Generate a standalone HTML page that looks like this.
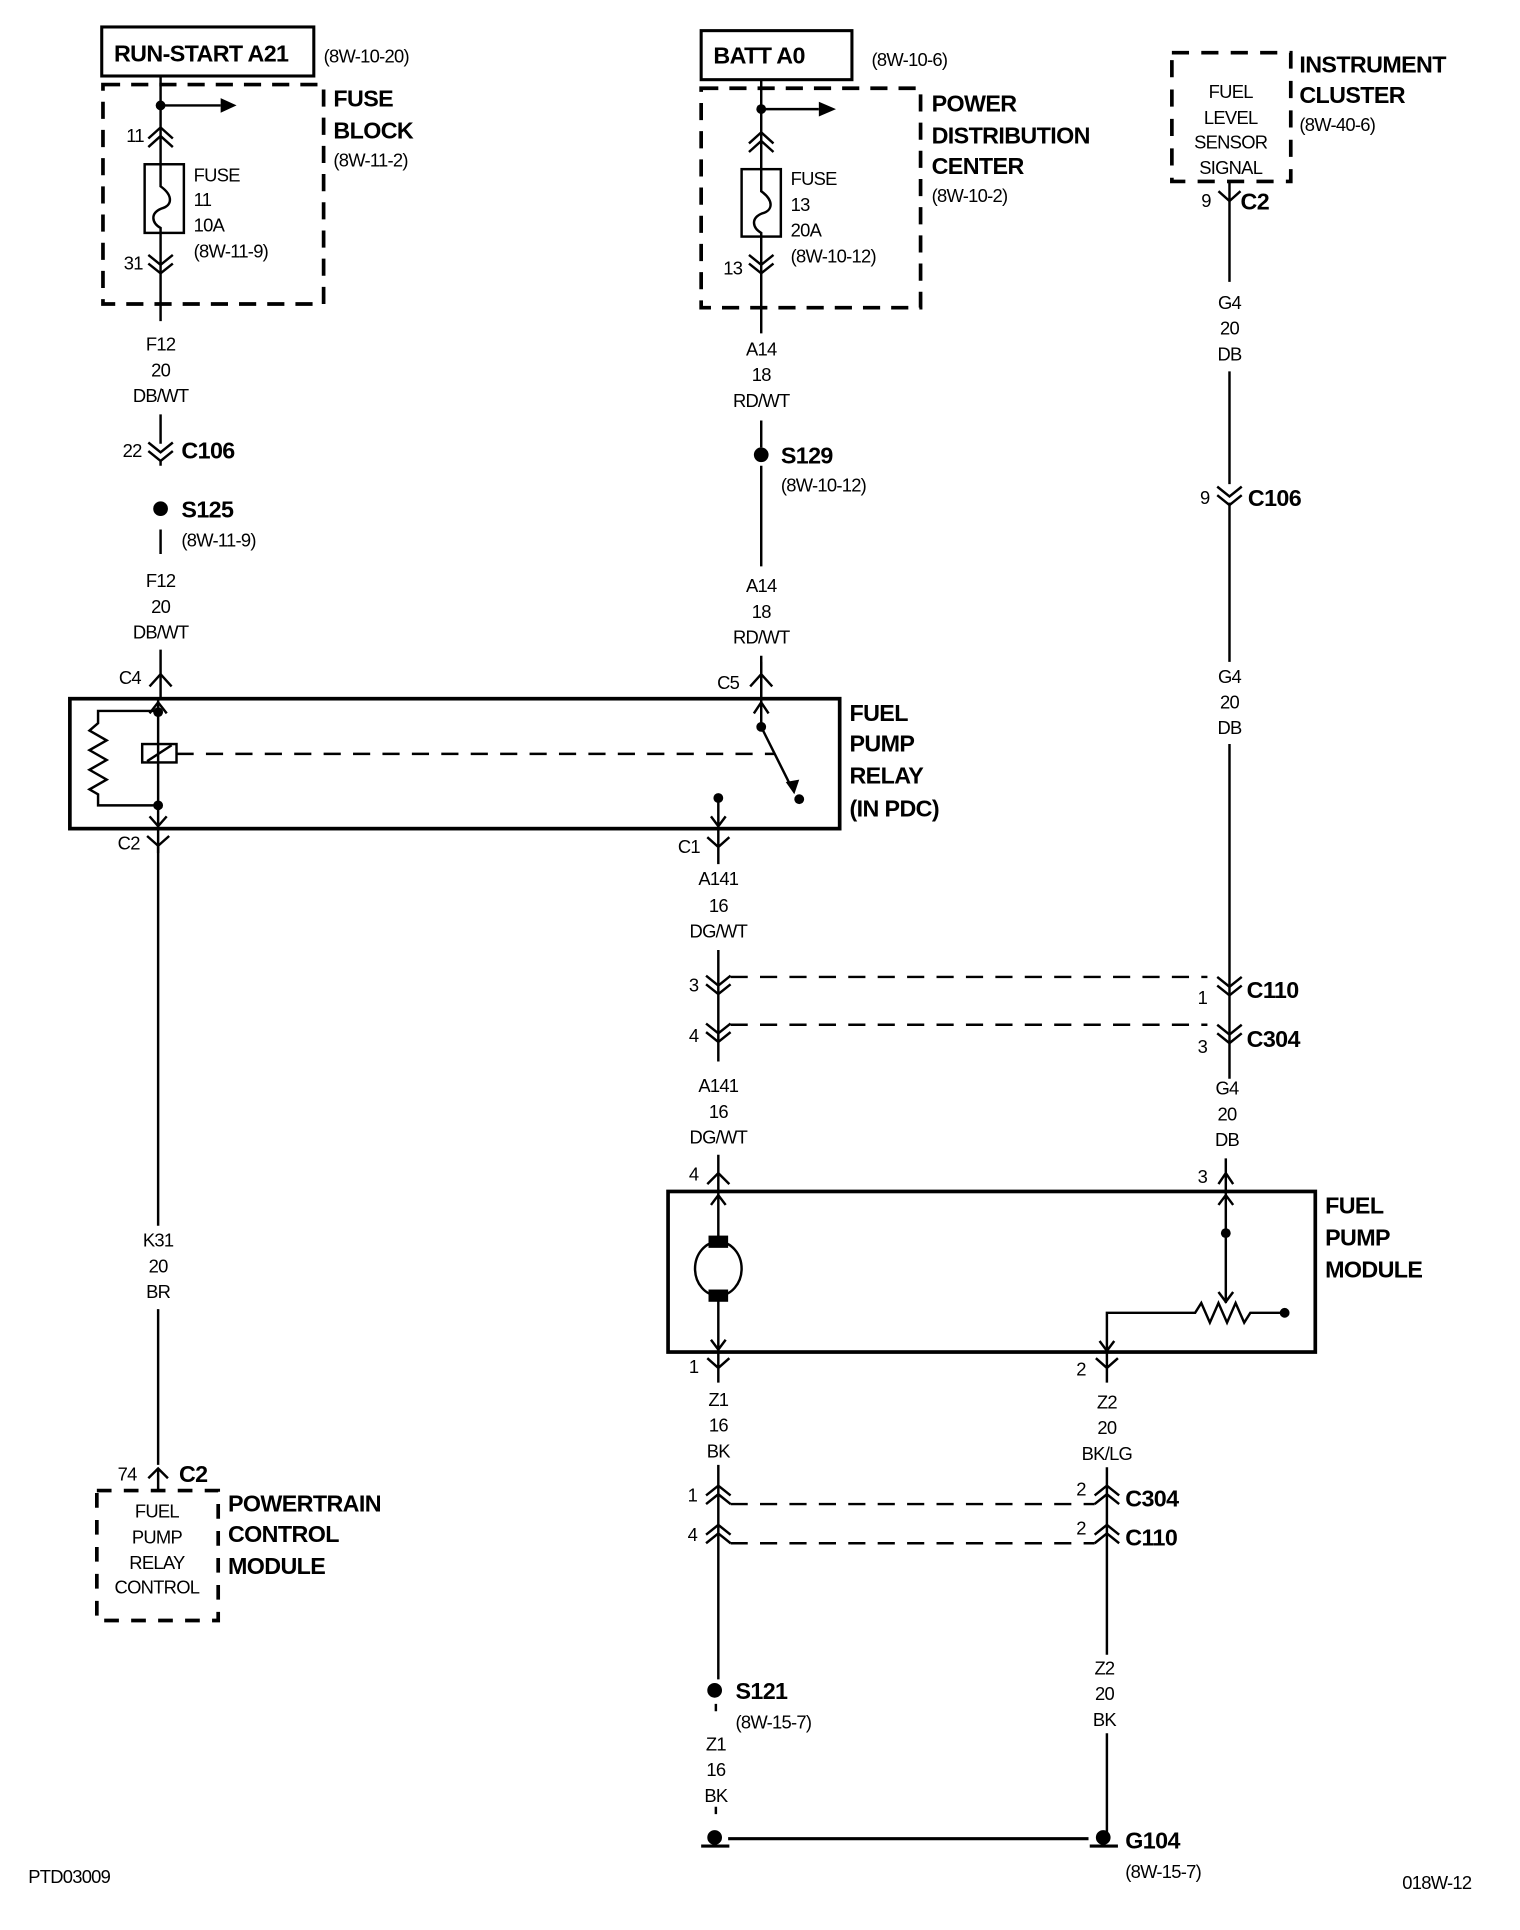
<!DOCTYPE html>
<html><head><meta charset="utf-8"><style>
html,body{margin:0;padding:0;background:#fff;}
svg{display:block;}
text{font-family:"Liberation Sans",Arial,sans-serif;fill:#000;}
.n{font-size:15px;letter-spacing:-0.6px;}
.b{font-size:19px;font-weight:bold;letter-spacing:-0.5px;}
.c{text-anchor:middle;}
</style></head><body>
<svg width="1520" height="1930" viewBox="0 0 1240 1574.5" preserveAspectRatio="none" xmlns="http://www.w3.org/2000/svg">
<g fill="none" stroke="#000" stroke-width="2">
<rect x="83" y="22" width="173" height="40" stroke-width="2.5"/>
<rect x="84" y="69" width="180" height="179" stroke-width="3" stroke-dasharray="14,9"/>
<path d="M131 62 V135 M131 190 V262 M131 338 V362"/>
<path d="M131 86 H180"/>
<path d="M121 113 L131 104 L141 113 M121 120 L131 111 L141 120"/>
<rect x="118" y="134" width="32" height="56"/>
<path d="M131 134 V152 C142 160 140 168 132 170 C122 174 124 182 131 186 V190"/>
<path d="M121 208 L131 216 L141 208 M121 215 L131 223 L141 215"/>
<path d="M121 361 L131 369 L141 361 M121 368 L131 376 L141 368"/>
<path d="M131 376 V380 M131 432 V452 M131 530 V570"/>
<path d="M122 560 L131 550 L140 560"/>
<rect x="57" y="570" width="628" height="106" stroke-width="3"/>
<path d="M129 570 V676"/>
<path d="M122 582 L129 573 L136 582 M122 666 L129 674 L136 666"/>
<rect x="116" y="607" width="28" height="15"/>
<path d="M120 621 L140 608"/>
<path d="M129 580 H80 V590 L73 596 L87 604 L73 612 L87 620 L73 628 L87 636 L73 644 L80 648 V657 H129"/>
<path d="M144 615 H632" stroke-dasharray="14,10"/>
<path d="M621 540 V593 M621 593 L646 643"/>
<path d="M615 582 L621 573 L627 582"/>
<path d="M586 651 V675 M580 666 L586 674 L592 666"/>
<path d="M129 676 V1000 M129 1068 V1195"/>
<path d="M120 682 L129 690 L138 682 M129 690 V696"/>
<path d="M121 1206 L129 1198 L137 1206 M129 1198 V1216"/>
<rect x="79" y="1216" width="99" height="106" stroke-width="3" stroke-dasharray="12,10"/>
<rect x="572" y="25" width="123" height="40" stroke-width="2.5"/>
<rect x="572" y="72" width="179" height="179" stroke-width="3" stroke-dasharray="14,9"/>
<path d="M621 65 V138 M621 193 V272 M621 343 V365 M621 380 V462 M621 535 V570"/>
<path d="M621 89 H668"/>
<path d="M611 117 L621 108 L631 117 M611 124 L621 115 L631 124"/>
<rect x="605" y="138" width="32" height="55"/>
<path d="M621 138 V156 C632 164 630 172 622 174 C612 178 614 186 621 190 V193"/>
<path d="M611 208 L621 216 L631 208 M611 215 L621 223 L631 215"/>
<path d="M612 560 L621 550 L630 560"/>
<path d="M586 676 V705 M577 683 L586 691 L595 683"/>
<path d="M586 775 V866 M586 942 V972"/>
<path d="M576 796 L586 804 L596 796 M576 803 L586 811 L596 803"/>
<path d="M576 835 L586 843 L596 835 M576 842 L586 850 L596 842"/>
<path d="M596 797 H985 M596 836 H985" stroke-dasharray="14,10"/>
<path d="M577 966 L586 957 L595 966"/>
<rect x="545" y="972" width="528" height="131" stroke-width="3"/>
<path d="M586 972 V1103"/>
<path d="M580 983 L586 975 L592 983 M580 1093 L586 1101 L592 1093"/>
<ellipse cx="586" cy="1035" rx="19" ry="22" fill="#fff"/>
<rect x="579" y="1009" width="14" height="8" fill="#000"/>
<rect x="579" y="1053" width="14" height="8" fill="#000"/>
<path d="M1000 972 V1063 M994 983 L1000 975 L1006 983 M994 1054 L1000 1062 L1006 1054"/>
<path d="M903 1103 V1071 H975 L980 1063 L987 1079 L994 1063 L1001 1079 L1008 1063 L1015 1079 L1020 1071 H1048"/>
<path d="M897 1094 L903 1102 L909 1094"/>
<path d="M586 1103 V1128 M577 1108 L586 1116 L595 1108"/>
<path d="M903 1103 V1128 M894 1108 L903 1116 L912 1108"/>
<path d="M586 1195 V1370 M903 1197 V1350 M903 1414 V1495 M584 1390 V1396 M584 1474 V1480"/>
<path d="M576 1220 L586 1212 L596 1220 M576 1227 L586 1219 L596 1227"/>
<path d="M576 1252 L586 1244 L596 1252 M576 1259 L586 1251 L596 1259"/>
<path d="M893 1220 L903 1212 L913 1220 M893 1227 L903 1219 L913 1227"/>
<path d="M893 1252 L903 1244 L913 1252 M893 1259 L903 1251 L913 1259"/>
<path d="M596 1227 H893 M596 1259 H893" stroke-dasharray="14,10"/>
<path d="M594 1500 H888" stroke-width="2.5"/>
<path d="M572 1506 H595 M889 1506 H912" stroke-width="2.5"/>
<rect x="956" y="43" width="97" height="105" stroke-width="3" stroke-dasharray="14,10"/>
<path d="M1003 148 V230 M1003 303 V395 M1003 410 V540 M1003 607 V880"/>
<path d="M994 156 L1003 164 L1012 156"/>
<path d="M993 397 L1003 405 L1013 397 M993 404 L1003 412 L1013 404"/>
<path d="M993 797 L1003 805 L1013 797 M993 804 L1003 812 L1013 804"/>
<path d="M993 836 L1003 844 L1013 836 M993 843 L1003 851 L1013 843"/>
<path d="M994 966 L1000 957 L1006 966 M1000 945 V972" />
</g>
<g fill="#000">
<path d="M180 80 L193 86 L180 92 Z"/>
<path d="M668 83 L682 89 L668 95 Z"/>
<circle cx="131" cy="86" r="4"/><circle cx="621" cy="89" r="4"/>
<circle cx="131" cy="415" r="6"/><circle cx="621" cy="371" r="6"/>
<circle cx="129" cy="581" r="4"/><circle cx="129" cy="657" r="4"/>
<circle cx="621" cy="593" r="4"/><circle cx="652" cy="652" r="4"/><circle cx="586" cy="651" r="4"/>
<path d="M641 638 L648 648 L652 636 Z"/>
<circle cx="1000" cy="1006" r="4"/><circle cx="1048" cy="1071" r="4"/>
<circle cx="583" cy="1379" r="6"/>
<circle cx="583" cy="1499" r="6"/><circle cx="900" cy="1499" r="6"/>
</g>
<text class="b" x="93" y="50">RUN-START A21</text>
<text class="n" x="264" y="51">(8W-10-20)</text>
<text class="b" x="272" y="87">FUSE</text><text class="b" x="272" y="113">BLOCK</text>
<text class="n" x="272" y="136">(8W-11-2)</text>
<text class="n" x="103" y="116">11</text>
<text class="n" x="158" y="148">FUSE</text><text class="n" x="158" y="168">11</text><text class="n" x="158" y="189">10A</text><text class="n" x="158" y="210">(8W-11-9)</text>
<text class="n" x="101" y="220">31</text>
<text class="n c" x="131" y="286">F12</text><text class="n c" x="131" y="307">20</text><text class="n c" x="131" y="328">DB/WT</text>
<text class="n" x="100" y="373">22</text><text class="b" x="148" y="374">C106</text>
<text class="b" x="148" y="422">S125</text><text class="n" x="148" y="446">(8W-11-9)</text>
<text class="n c" x="131" y="479">F12</text><text class="n c" x="131" y="500">20</text><text class="n c" x="131" y="521">DB/WT</text>
<text class="n" x="97" y="558">C4</text>
<text class="b" x="693" y="588">FUEL</text><text class="b" x="693" y="613">PUMP</text><text class="b" x="693" y="639">RELAY</text><text class="b" x="693" y="666">(IN PDC)</text>
<text class="n" x="96" y="693">C2</text>
<text class="n c" x="129" y="1017">K31</text><text class="n c" x="129" y="1038">20</text><text class="n c" x="129" y="1059">BR</text>
<text class="n" x="96" y="1208">74</text><text class="b" x="146" y="1209">C2</text>
<text class="n c" x="128" y="1238">FUEL</text><text class="n c" x="128" y="1259">PUMP</text><text class="n c" x="128" y="1280">RELAY</text><text class="n c" x="128" y="1300">CONTROL</text>
<text class="b" x="186" y="1233">POWERTRAIN</text><text class="b" x="186" y="1258">CONTROL</text><text class="b" x="186" y="1284">MODULE</text>
<text class="b" x="582" y="52">BATT A0</text>
<text class="n" x="711" y="54">(8W-10-6)</text>
<text class="b" x="760" y="91">POWER</text><text class="b" x="760" y="117">DISTRIBUTION</text><text class="b" x="760" y="142">CENTER</text>
<text class="n" x="760" y="165">(8W-10-2)</text>
<text class="n" x="645" y="151">FUSE</text><text class="n" x="645" y="172">13</text><text class="n" x="645" y="193">20A</text><text class="n" x="645" y="214">(8W-10-12)</text>
<text class="n" x="590" y="224">13</text>
<text class="n c" x="621" y="290">A14</text><text class="n c" x="621" y="311">18</text><text class="n c" x="621" y="332">RD/WT</text>
<text class="b" x="637" y="378">S129</text><text class="n" x="637" y="401">(8W-10-12)</text>
<text class="n c" x="621" y="483">A14</text><text class="n c" x="621" y="504">18</text><text class="n c" x="621" y="525">RD/WT</text>
<text class="n" x="585" y="562">C5</text>
<text class="n" x="553" y="696">C1</text>
<text class="n c" x="586" y="722">A141</text><text class="n c" x="586" y="744">16</text><text class="n c" x="586" y="765">DG/WT</text>
<text class="n" x="562" y="809">3</text><text class="n" x="562" y="850">4</text>
<text class="n c" x="586" y="891">A141</text><text class="n c" x="586" y="912">16</text><text class="n c" x="586" y="933">DG/WT</text>
<text class="n" x="562" y="963">4</text>
<text class="b" x="1081" y="990">FUEL</text><text class="b" x="1081" y="1016">PUMP</text><text class="b" x="1081" y="1042">MODULE</text>
<text class="n" x="562" y="1120">1</text><text class="n" x="878" y="1122">2</text>
<text class="n c" x="586" y="1147">Z1</text><text class="n c" x="586" y="1168">16</text><text class="n c" x="586" y="1189">BK</text>
<text class="n c" x="903" y="1149">Z2</text><text class="n c" x="903" y="1170">20</text><text class="n c" x="903" y="1191">BK/LG</text>
<text class="n" x="561" y="1225">1</text><text class="n" x="561" y="1257">4</text>
<text class="n" x="878" y="1220">2</text><text class="n" x="878" y="1252">2</text>
<text class="b" x="918" y="1229">C304</text><text class="b" x="918" y="1261">C110</text>
<text class="b" x="600" y="1386">S121</text><text class="n" x="600" y="1410">(8W-15-7)</text>
<text class="n c" x="584" y="1428">Z1</text><text class="n c" x="584" y="1449">16</text><text class="n c" x="584" y="1470">BK</text>
<text class="n c" x="901" y="1366">Z2</text><text class="n c" x="901" y="1387">20</text><text class="n c" x="901" y="1408">BK</text>
<text class="b" x="918" y="1508">G104</text><text class="n" x="918" y="1532">(8W-15-7)</text>
<text class="b" x="1060" y="59">INSTRUMENT</text><text class="b" x="1060" y="84">CLUSTER</text>
<text class="n" x="1060" y="107">(8W-40-6)</text>
<text class="n c" x="1004" y="80">FUEL</text><text class="n c" x="1004" y="101">LEVEL</text><text class="n c" x="1004" y="121">SENSOR</text><text class="n c" x="1004" y="142">SIGNAL</text>
<text class="n" x="980" y="169">9</text><text class="b" x="1012" y="171">C2</text>
<text class="n c" x="1003" y="252">G4</text><text class="n c" x="1003" y="273">20</text><text class="n c" x="1003" y="294">DB</text>
<text class="n" x="979" y="411">9</text><text class="b" x="1018" y="413">C106</text>
<text class="n c" x="1003" y="557">G4</text><text class="n c" x="1003" y="578">20</text><text class="n c" x="1003" y="599">DB</text>
<text class="n" x="977" y="819">1</text><text class="b" x="1017" y="814">C110</text>
<text class="n" x="977" y="859">3</text><text class="b" x="1017" y="854">C304</text>
<text class="n c" x="1001" y="893">G4</text><text class="n c" x="1001" y="914">20</text><text class="n c" x="1001" y="935">DB</text>
<text class="n" x="977" y="965">3</text>
<text class="n" x="23" y="1536">PTD03009</text>
<text class="n" x="1144" y="1541">018W-12</text>
</svg>
</body></html>
